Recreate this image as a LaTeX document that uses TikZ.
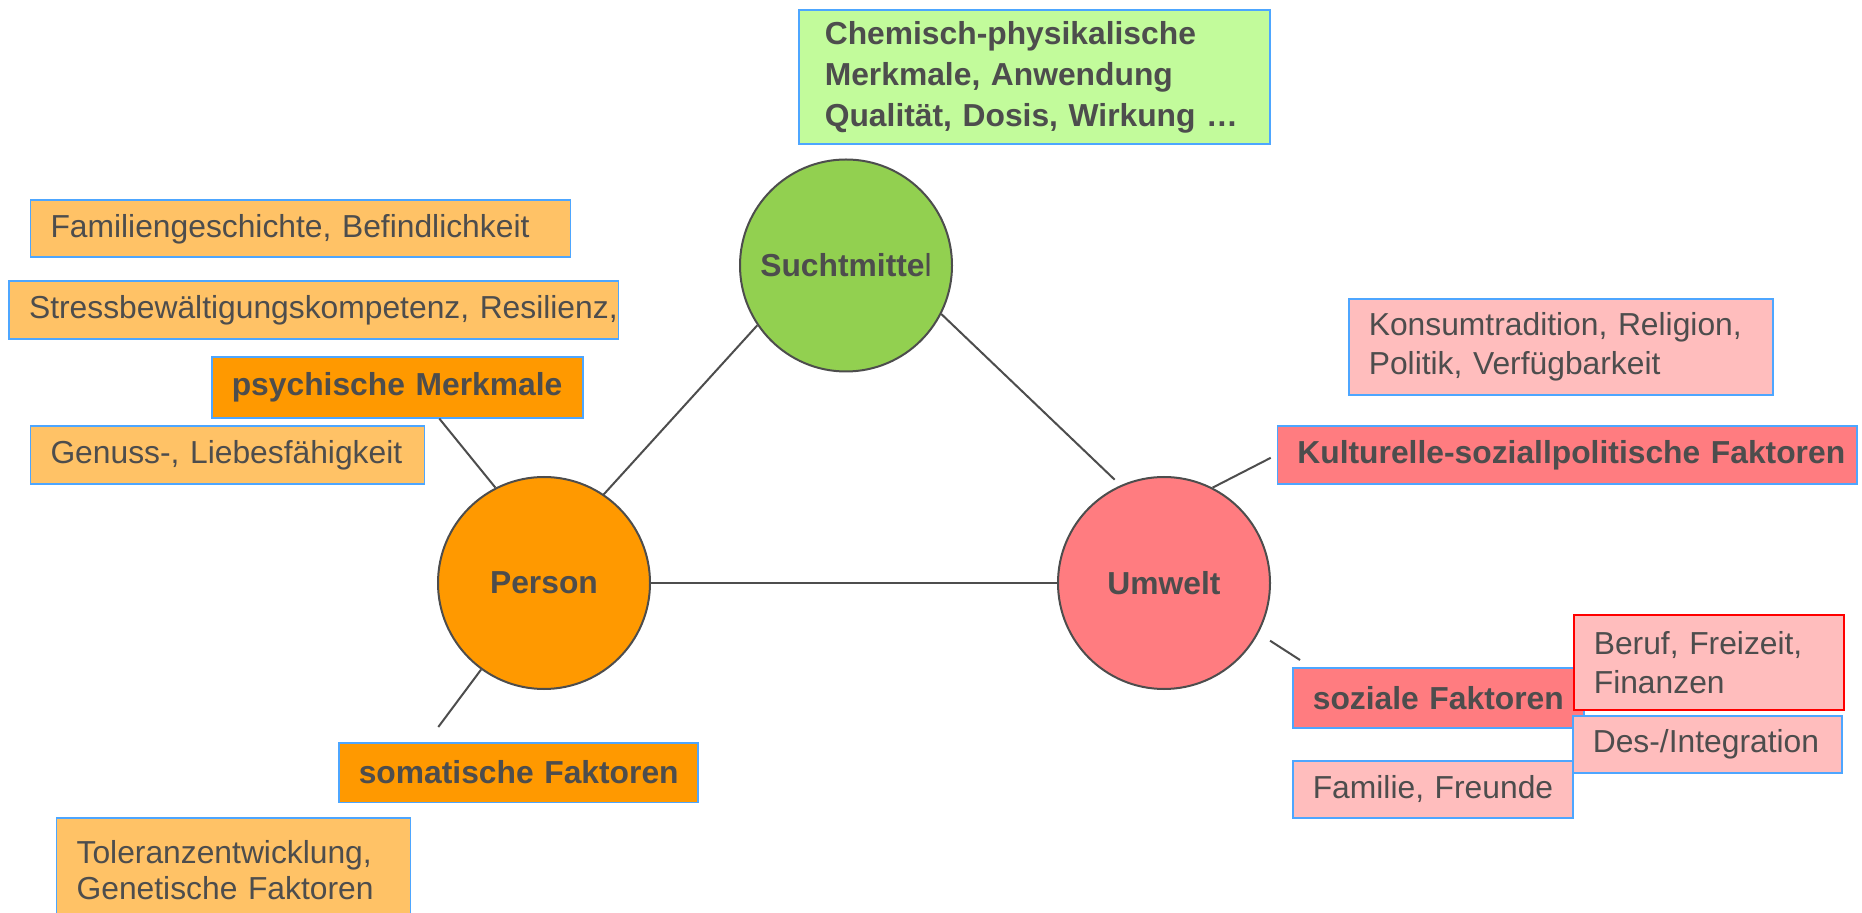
\documentclass[tikz,border=0pt]{standalone}
\usepackage{fontspec}
\setmainfont{Liberation Sans}
\usetikzlibrary{shapes.geometric}
\usepackage{xcolor}
\definecolor{boxblue}{HTML}{4DA6FF}
\definecolor{lightorange}{HTML}{FFC266}
\definecolor{darkorange}{HTML}{FF9900}
\definecolor{leafgreen}{HTML}{92D050}
\definecolor{palegreen}{HTML}{C2FB9B}
\definecolor{rosered}{HTML}{FF7C80}
\definecolor{palerose}{HTML}{FFBDBD}
\definecolor{txtgray}{HTML}{4D4D4D}
\definecolor{linegray}{HTML}{4D4D4D}

\begin{document}
\begin{tikzpicture}[x=0.5pt, y=-0.5pt,
    every node/.style={text=txtgray, font=\fontsize{15.9pt}{19.5pt}\selectfont},
    infobox/.style={draw=boxblue, line width=0.8pt, anchor=north west, inner xsep=10pt, inner ysep=0pt, align=left},
    headbox/.style={infobox, font=\fontsize{15.9pt}{19.5pt}\selectfont\bfseries},
    hub/.style={circle, draw=linegray, line width=1pt, inner sep=0pt, minimum size=106pt, font=\fontsize{15.9pt}{19.5pt}\selectfont\bfseries},
    link/.style={draw=linegray, line width=1pt}]
    \useasboundingbox (0,0) rectangle (1862,913);
    \clip (0,0) rectangle (1862,913);
    \node[hub, fill=leafgreen] (sucht) at (846,265.5) {\makebox[0pt]{Suchtmitte{\mdseries l}}};
    \node[hub, fill=darkorange] (person) at (544,583) {\makebox[0pt]{Person}};
    \node[hub, fill=rosered] (umwelt) at (1164,583) {\makebox[0pt]{Umwelt}};
    % Suchtmittel
    \node[headbox, fill=palegreen, inner xsep=13pt, text width=209.5pt, minimum height=67pt, font=\fontsize{15.9pt}{20.5pt}\selectfont\bfseries] (stoff) at (798,9.5) {Chemisch-physikalische\\Merkmale, Anwendung\\Qualität, Dosis, Wirkung …};
    % Person
    \node[infobox, fill=lightorange, text width=250pt, minimum height=28.5pt] (famgesch) at (29.7,199.5) {Familiengeschichte, Befindlichkeit};
    \node[infobox, fill=lightorange, text width=284.6pt, minimum height=29.2pt] (stress) at (8.3,280) {\mbox{Stressbewältigungskompetenz, Resilienz,}};
    \node[headbox, fill=darkorange, text width=165.5pt, minimum height=30.5pt] (psych) at (211,356) {\mbox{psychische Merkmale}};
    \node[infobox, fill=lightorange, text width=177pt, minimum height=29pt] (genuss) at (29.7,425) {\mbox{Genuss-, Liebesfähigkeit}};
    \node[headbox, fill=darkorange, text width=159.5pt, minimum height=29.8pt] (soma) at (338,742) {\mbox{somatische Faktoren}};
    \node[infobox, fill=lightorange, text width=157pt, minimum height=52pt, font=\fontsize{15.9pt}{18pt}\selectfont] (toleranz) at (55.8,817) {Toleranzentwicklung,\\Genetische Faktoren};
    % Umwelt
    \node[infobox, fill=palerose, text width=192pt, minimum height=48pt] (konsum) at (1348,298) {Konsumtradition, Religion,\\Politik, Verfügbarkeit};
    \node[headbox, fill=rosered, text width=269.7pt, minimum height=29pt] (kult) at (1276.6,425) {\mbox{Kulturelle-soziallpolitische Faktoren}};
    \node[headbox, fill=rosered, text width=125.5pt, minimum height=30pt] (soz) at (1292,667) {\mbox{soziale Faktoren}};
    \node[infobox, fill=palerose, draw=red, text width=115pt, minimum height=47.5pt] (beruf) at (1573,614) {Beruf, Freizeit,\\Finanzen};
    \node[infobox, fill=palerose, text width=114.5pt, minimum height=28.5pt] (integr) at (1572,715) {\mbox{Des-/Integration}};
    \node[infobox, fill=palerose, text width=120pt, minimum height=28.5pt] (freunde) at (1292,760) {\mbox{Familie, Freunde}};
    % Verbindungen
    \draw[link] (person) -- (umwelt);
    \draw[link] (person.56) -- (sucht.214);
    \draw[link, shorten >=4pt] (sucht.-27) -- (umwelt.114);
    \draw[link] ([xshift=21pt]psych.south) -- (person.117);
    \draw[link] (person.234) -- ([xshift=-40pt, yshift=7.5pt]soma.north);
    \draw[link, shorten >=3.3pt] (umwelt.63) -- (kult.west);
    \draw[link, shorten <=6.9pt] (umwelt.-28) -- ([xshift=4pt, yshift=3.5pt]soz.north west);
\end{tikzpicture}
\end{document}
